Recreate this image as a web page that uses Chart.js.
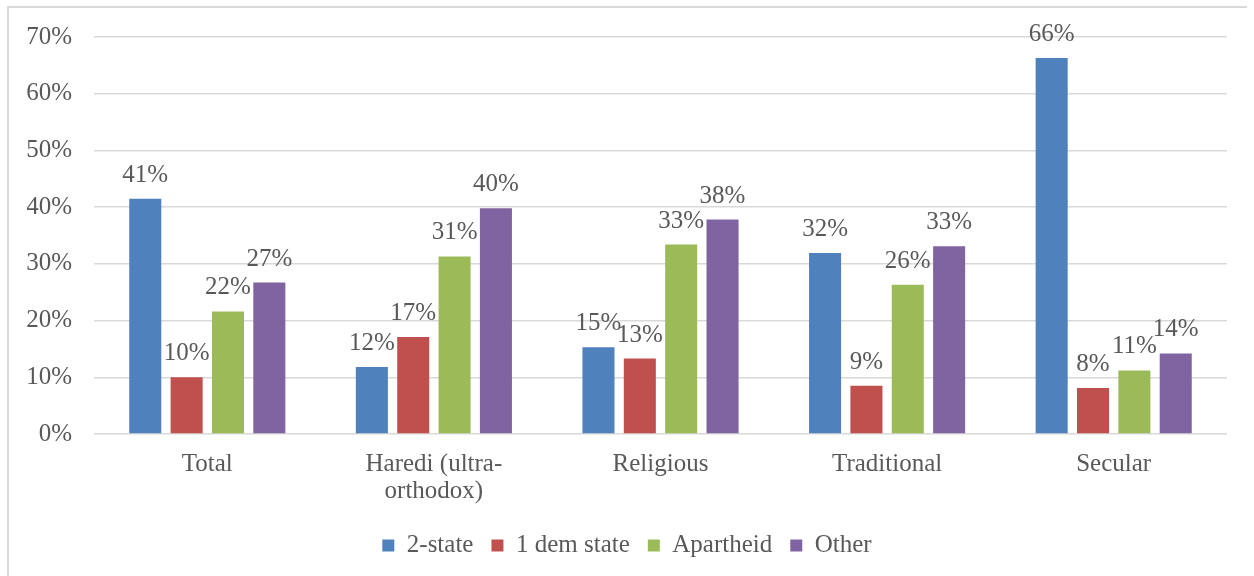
<!DOCTYPE html>
<html>
<head>
<meta charset="utf-8">
<script src="https://cdn.jsdelivr.net/npm/chart.js@4.4.1/dist/chart.umd.min.js"></script>
<style>
  html, body { margin: 0; padding: 0; background: #ffffff; }
  #wrap { position: relative; width: 1254px; height: 576px; }
</style>
</head>
<body>
<div id="wrap"><canvas id="c" width="1254" height="576"></canvas></div>
<script>
const categories = ['Total', ['Haredi (ultra-', 'orthodox)'], 'Religious', 'Traditional', 'Secular'];
const seriesNames = ['2-state', '1 dem state', 'Apartheid', 'Other'];
const seriesColors = ['#4F81BD', '#C0504D', '#9BBB59', '#8064A2'];

const twoState   = [41.5, 11.8, 15.3, 31.9, 66.3];
const oneDem     = [10.0, 17.1, 13.3,  8.5,  8.1];
const apartheid  = [21.6, 31.3, 33.4, 26.3, 11.2];
const other      = [26.7, 39.8, 37.8, 33.1, 14.2];

const twoStateLabels  = ['41%', '12%', '15%', '32%', '66%'];
const oneDemLabels    = ['10%', '17%', '13%', '9%', '8%'];
const apartheidLabels = ['22%', '31%', '33%', '26%', '11%'];
const otherLabels     = ['27%', '40%', '38%', '33%', '14%'];

const yTicks = [0, 10, 20, 30, 40, 50, 60, 70];

const seriesValues = [twoState, oneDem, apartheid, other];
const seriesLabels = [twoStateLabels, oneDemLabels, apartheidLabels, otherLabels];

const FONT = "'Liberation Serif', 'Times New Roman', serif";
const FS = 25;
const TEXT = '#595959';

const frame = {
  id: 'frame',
  beforeDraw(chart) {
    const ctx = chart.ctx;
    ctx.save();
    ctx.strokeStyle = '#D9D9D9';
    ctx.lineWidth = 2;
    ctx.beginPath();
    ctx.moveTo(8, 576);
    ctx.lineTo(8, 7);
    ctx.lineTo(1247, 7);
    ctx.stroke();
    ctx.restore();
  }
};

const valueLabels = {
  id: 'valueLabels',
  afterDatasetsDraw(chart) {
    const ctx = chart.ctx;
    ctx.save();
    ctx.font = FS + 'px ' + FONT;
    ctx.fillStyle = TEXT;
    ctx.textAlign = 'center';
    ctx.textBaseline = 'alphabetic';
    chart.data.datasets.forEach((ds, i) => {
      const meta = chart.getDatasetMeta(i);
      meta.data.forEach((bar, j) => {
        ctx.fillText(seriesLabels[i][j], bar.x, bar.y - 17);
      });
    });
    ctx.restore();
  }
};

new Chart(document.getElementById('c'), {
  type: 'bar',
  data: {
    labels: categories,
    datasets: seriesNames.map((name, i) => ({
      label: name,
      data: seriesValues[i],
      backgroundColor: seriesColors[i],
      borderWidth: 0,
      categoryPercentage: 0.73,
      barPercentage: 0.775
    }))
  },
  options: {
    responsive: false,
    animation: false,
    devicePixelRatio: 1,
    layout: { padding: { top: 35, right: 27, left: 27, bottom: 8 } },
    plugins: {
      legend: {
        display: true,
        position: 'bottom',
        labels: {
          boxWidth: 12,
          boxHeight: 12,
          padding: 18,
          color: TEXT,
          font: { family: FONT, size: FS }
        }
      },
      tooltip: { enabled: false }
    },
    scales: {
      x: {
        afterFit(scale) { scale.height = 81; },
        grid: { display: false, drawTicks: false },
        border: { display: false },
        ticks: {
          color: TEXT,
          font: { family: FONT, size: FS, lineHeight: 1.08 },
          padding: 17,
          maxRotation: 0,
          autoSkip: false
        }
      },
      y: {
        min: 0,
        max: 70,
        afterFit(scale) { scale.width = 67; },
        afterBuildTicks(scale) { scale.ticks = yTicks.map(v => ({ value: v })); },
        grid: { color: '#D9D9D9', lineWidth: 1.5, drawTicks: false },
        border: { display: false },
        ticks: {
          color: TEXT,
          font: { family: FONT, size: FS },
          padding: 22,
          callback: (v) => v + '%'
        }
      }
    }
  },
  plugins: [frame, valueLabels]
});
</script>
</body>
</html>
